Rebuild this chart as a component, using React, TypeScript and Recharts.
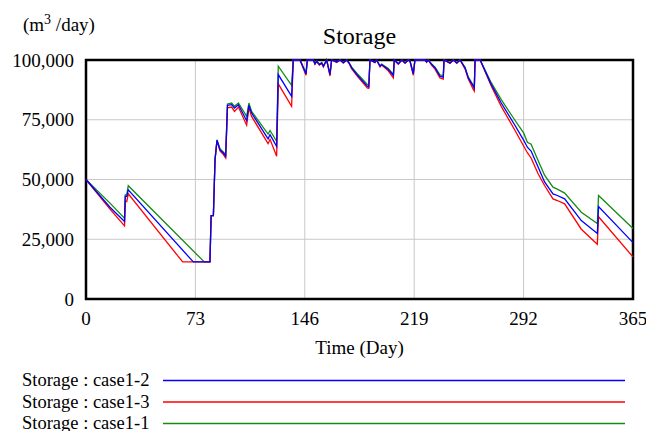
import { CartesianGrid, Line, LineChart, ReferenceArea, XAxis, YAxis } from "recharts";

const font = "'Liberation Serif', 'Times New Roman', serif";

const dayTicks = [0, 73, 146, 219, 292, 365];
const storageTicks = [0, 25000, 50000, 75000, 100000];

// Storage : case1-2 (blue)
const case12Days = [
  0, 16, 25.7, 26.2, 27.2, 28.2, 71.6, 82.7, 83.5, 85, 86.1, 87.4, 89.4, 91.6, 93.2, 94.4, 97.2, 99.1, 101.7, 107.2,
  108.7, 110.5, 121.5, 122.8, 127.2, 128.3, 137.2, 138.3, 142.8, 146.8, 147.7, 151.7, 152.8, 153.9, 155.7, 157.3,
  158.4, 160.6, 162.8, 163.9, 167.3, 169.5, 171.7, 174, 175.7, 177.3, 181.7, 187.7, 188.7, 189.5, 192.8, 193.9,
  196.2, 197.3, 201.7, 205.1, 205.7, 208.4, 210.7, 212.9, 215.1, 216.2, 218.4, 219.5, 226.2, 227.3, 228.4, 230.7,
  232.9, 236.2, 238.4, 238.9, 242.9, 245.1, 247.4, 249.6, 252.9, 255.1, 258.5, 259.1, 259.6, 263, 270.4, 277.1,
  286, 292, 294.5, 297, 301.6, 306, 311.6, 314.5, 319.4, 330.5, 341.2, 342, 365,
];
const case12Storage = [
  50000, 38400, 32400, 42900, 42900, 45700, 15500, 15500, 34900, 34900, 58300, 66400, 62500, 61100, 59700, 81000,
  81300, 79900, 81300, 74600, 81000, 77800, 67000, 68800, 63900, 93900, 84800, 100000, 100000, 94200, 100000,
  100000, 98400, 99500, 98100, 98800, 97400, 100000, 93900, 100000, 99200, 100000, 98900, 100000, 98600, 96700,
  93200, 89000, 88800, 100000, 99000, 100000, 97400, 98100, 96000, 93600, 100000, 98400, 100000, 98800, 100000,
  99500, 94200, 100000, 100000, 99200, 100000, 98100, 96700, 93200, 92800, 100000, 98800, 100000, 98800, 100000,
  96700, 92500, 89000, 88300, 100000, 100000, 89800, 82000, 72900, 66500, 63500, 61900, 55300, 49000, 44000,
  43300, 41900, 32800, 27400, 38700, 23600,
];

// Storage : case1-3 (red)
const case13Days = [
  0, 16, 25.7, 26.2, 27.2, 28.2, 64.5, 82.7, 83.5, 85, 86.1, 87.4, 89.4, 91.6, 93.2, 94.4, 97.2, 99.1, 101.7, 107.2,
  108.7, 110.5, 121.5, 122.8, 127.2, 128.3, 137.2, 138.3, 142.8, 146.8, 147.7, 151.7, 152.8, 153.9, 155.7, 157.3,
  158.4, 160.6, 162.8, 163.9, 167.3, 169.5, 171.7, 174, 175.7, 177.3, 181.7, 187.7, 188.7, 189.5, 192.8, 193.9,
  196.2, 197.3, 201.7, 205.1, 205.7, 208.4, 210.7, 212.9, 215.1, 216.2, 218.4, 219.5, 226.2, 227.3, 228.4, 230.7,
  232.9, 236.2, 238.4, 238.9, 242.9, 245.1, 247.4, 249.6, 252.9, 255.1, 258.5, 259.1, 259.6, 263, 270.4, 277.1,
  286, 292, 294.5, 297, 301.6, 306, 311.6, 314.5, 319.4, 330.5, 341.2, 342, 365,
];
const case13Storage = [
  50000, 37600, 30600, 40800, 40800, 44000, 15500, 15500, 34900, 34900, 58300, 66200, 62000, 60500, 59000, 80000,
  80300, 78500, 80300, 72700, 80000, 76400, 65000, 66800, 59700, 90000, 80600, 100000, 100000, 93600, 100000,
  100000, 98200, 99400, 97900, 98600, 97100, 100000, 93300, 100000, 99000, 100000, 98700, 100000, 98400, 96300,
  92700, 88300, 88100, 100000, 98900, 100000, 97100, 97900, 95500, 92500, 100000, 98200, 100000, 98600, 100000,
  99300, 93600, 100000, 100000, 99000, 100000, 97800, 96200, 92500, 92000, 100000, 98600, 100000, 98600, 100000,
  96300, 92000, 87600, 87000, 100000, 100000, 89100, 80600, 70800, 64000, 61200, 59000, 52500, 47500, 41900,
  41200, 39800, 29200, 22900, 34400, 17600,
];

// Storage : case1-1 (green)
const case11Days = [
  0, 16, 25.7, 26.2, 27.2, 28.2, 78.9, 82.7, 83.5, 85, 86.1, 87.4, 89.4, 91.6, 93.2, 94.4, 97.2, 99.1, 101.7, 107.2,
  108.7, 110.5, 121.5, 122.8, 127.2, 128.3, 137.2, 138.3, 142.8, 146.8, 147.7, 151.7, 152.8, 153.9, 155.7, 157.3,
  158.4, 160.6, 162.8, 163.9, 167.3, 169.5, 171.7, 174, 175.7, 177.3, 181.7, 187.7, 188.7, 189.5, 192.8, 193.9,
  196.2, 197.3, 201.7, 205.1, 205.7, 208.4, 210.7, 212.9, 215.1, 216.2, 218.4, 219.5, 226.2, 227.3, 228.4, 230.7,
  232.9, 236.2, 238.4, 238.9, 242.9, 245.1, 247.4, 249.6, 252.9, 255.1, 258.5, 259.1, 259.6, 263, 270.4, 277.1,
  286, 292, 294.5, 297, 301.6, 306, 311.6, 314.5, 319.4, 330.5, 341.2, 342, 365,
];
const case11Storage = [
  50000, 40100, 33800, 43600, 43600, 47400, 15500, 15500, 34900, 34900, 58300, 66600, 62900, 61500, 60400, 81600,
  82000, 80600, 82000, 76400, 82000, 78500, 69000, 70500, 66000, 97400, 89400, 100000, 100000, 94600, 100000,
  100000, 98500, 99600, 98300, 98900, 97600, 100000, 94300, 100000, 99300, 100000, 99000, 100000, 98700, 97000,
  93800, 89800, 89600, 100000, 99100, 100000, 97600, 98300, 96400, 94000, 100000, 98500, 100000, 98900, 100000,
  99600, 94600, 100000, 100000, 99300, 100000, 98300, 97000, 93800, 93500, 100000, 98900, 100000, 98900, 100000,
  97000, 92800, 89300, 88600, 100000, 100000, 90500, 83400, 75000, 69500, 65600, 64800, 58100, 51800, 46800,
  46000, 44300, 36300, 31600, 43300, 29500,
];

const toPoints = (days: number[], values: number[]) => days.map((day, i) => ({ day, storage: values[i] }));

const series = [
  { name: "Storage : case1-1", color: "#148c14", data: toPoints(case11Days, case11Storage) },
  { name: "Storage : case1-3", color: "#ff0000", data: toPoints(case13Days, case13Storage) },
  { name: "Storage : case1-2", color: "#0000ff", data: toPoints(case12Days, case12Storage) },
];

const legendOrder = ["Storage : case1-2", "Storage : case1-3", "Storage : case1-1"];

function DayTick({ x, y, payload }: any) {
  return (
    <text x={x} y={y} dy="0.71em" textAnchor="middle" fontSize={19} fontFamily={font} fill="#000">
      {payload.value}
    </text>
  );
}

function StorageTick({ x, y, payload }: any) {
  return (
    <text x={x} y={y} dy="0.355em" textAnchor="end" fontSize={19} fontFamily={font} fill="#000">
      {Number(payload.value).toLocaleString("en-US")}
    </text>
  );
}

export default function App() {
  return (
    <div
      style={{
        position: "absolute",
        left: 0,
        top: 0,
        width: 646,
        height: 431,
        background: "#fff",
        overflow: "hidden",
        fontFamily: font,
      }}
    >
      <LineChart width={646} height={431} margin={{ top: 60, right: 13, bottom: 72, left: 10 }}>
        <CartesianGrid stroke="#c8c8c8" strokeWidth={1} />
        <XAxis
          type="number"
          dataKey="day"
          domain={[0, 365]}
          ticks={dayTicks}
          interval={0}
          height={60}
          axisLine={false}
          tickLine={false}
          tickSize={0}
          tickMargin={13}
          tick={<DayTick />}
        />
        <YAxis
          type="number"
          domain={[0, 100000]}
          ticks={storageTicks}
          interval={0}
          width={76}
          axisLine={false}
          tickLine={false}
          tickSize={0}
          tickMargin={12}
          tick={<StorageTick />}
        />
        {series.map((s) => (
          <Line
            key={s.name}
            data={s.data}
            dataKey="storage"
            name={s.name}
            type="linear"
            stroke={s.color}
            strokeWidth={1.3}
            dot={false}
            isAnimationActive={false}
          />
        ))}
        <ReferenceArea x1={0} x2={365} y1={0} y2={100000} fill="none" fillOpacity={0} stroke="#000" strokeWidth={2.5} />
      </LineChart>
      <svg width={646} height={431} style={{ position: "absolute", left: 0, top: 0, pointerEvents: "none" }} fontFamily={font}>
        <text x={359.5} y={43.5} textAnchor="middle" fontSize={24} fill="#000">
          Storage
        </text>
        <text x={23} y={31} fontSize={19} fill="#000">
          (m<tspan dy={-7} fontSize={14}>3</tspan>
          <tspan dy={7}> /day)</tspan>
        </text>
        <text x={359.5} y={354} textAnchor="middle" fontSize={19} fill="#000">
          Time (Day)
        </text>
        {legendOrder.map((name, i) => {
          const s = series.find((it) => it.name === name)!;
          const y = 380 + i * 21.5;
          return (
            <g key={name}>
              <text x={22} y={y + 6} fontSize={18.5} fill="#000">
                {name}
              </text>
              <line x1={163} x2={625} y1={y + 0.5} y2={y + 0.5} stroke={s.color} strokeWidth={1.5} />
            </g>
          );
        })}
      </svg>
    </div>
  );
}
